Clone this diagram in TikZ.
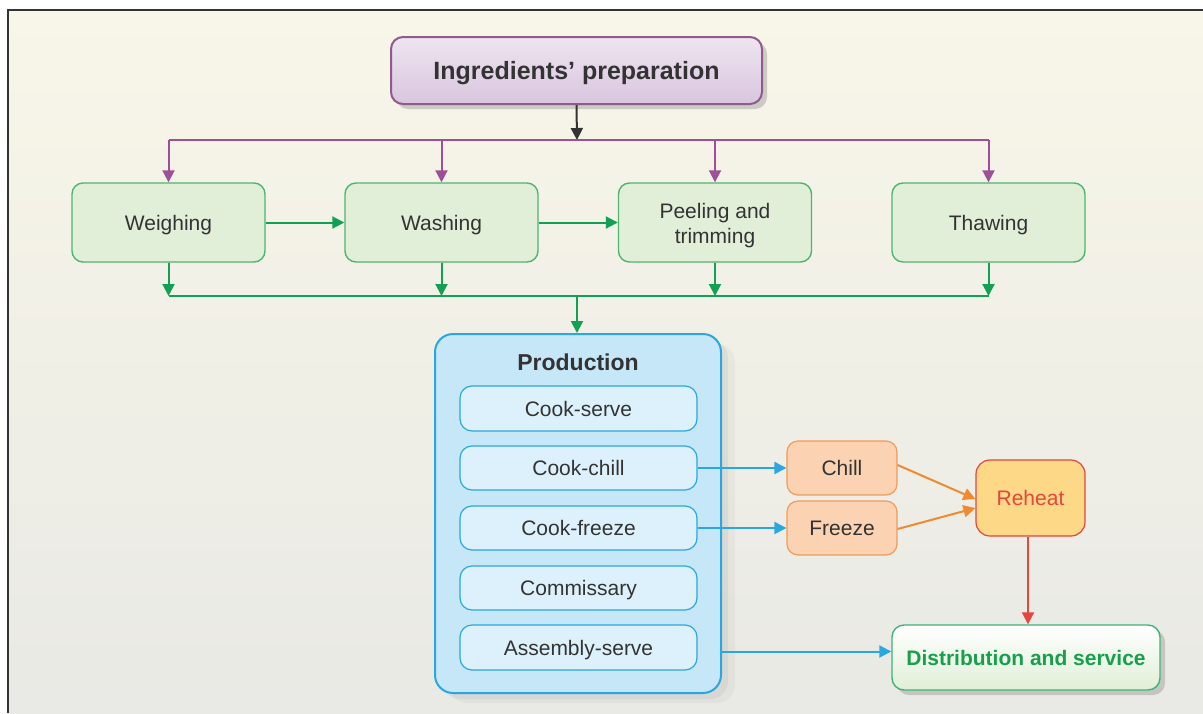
\documentclass[tikz,border=0pt]{standalone}
\usepackage{fontspec}
\setmainfont{Liberation Sans}
\usetikzlibrary{arrows.meta,shadows}

\definecolor{bgtop}{HTML}{F8F6E8}
\definecolor{bgbot}{HTML}{E9E9E5}
\definecolor{framec}{HTML}{333333}
\definecolor{txt}{HTML}{333333}
\definecolor{purln}{HTML}{9E4F96}
\definecolor{purtop}{HTML}{EEE5F0}
\definecolor{purbot}{HTML}{D9C5DF}
\definecolor{purbd}{HTML}{8F5B8F}
\definecolor{grnbd}{HTML}{4DB56E}
\definecolor{grnfill}{HTML}{E1EFD9}
\definecolor{grnln}{HTML}{12A052}
\definecolor{blubd}{HTML}{2AA7E0}
\definecolor{prodfill}{HTML}{C6E7F8}
\definecolor{subfill}{HTML}{DDF1FC}
\definecolor{orfill}{HTML}{FBD3B2}
\definecolor{orbd}{HTML}{EF9B5A}
\definecolor{orln}{HTML}{F08A30}
\definecolor{rhfill}{HTML}{FDD886}
\definecolor{redc}{HTML}{E5463E}
\definecolor{distbot}{HTML}{E0EFD6}
\definecolor{disttxt}{HTML}{17A04C}

\tikzset{
  tip/.style={-{Triangle[length=12pt,width=12pt]}},
  base/.style={font=\fontsize{21}{25}\selectfont, text=txt, align=center, inner sep=0pt,
    text height=15pt, text depth=0pt},
  prepbox/.style={base, draw=purbd, line width=2pt, rounded corners=12pt,
    top color=purtop, bottom color=purbot, font=\fontsize{25}{30}\selectfont\bfseries,
    text height=18pt, minimum width=371pt, minimum height=67pt,
    drop shadow={shadow xshift=5pt, shadow yshift=-5pt, opacity=.35}},
  stepbox/.style={base, draw=grnbd, line width=1.4pt, fill=grnfill, rounded corners=11pt,
    minimum width=193pt, minimum height=79pt},
  prodbox/.style={draw=blubd, line width=2pt, fill=prodfill, rounded corners=18pt,
    minimum width=286pt, minimum height=359pt, inner sep=0pt,
    drop shadow={shadow xshift=14pt, shadow yshift=-10pt, opacity=.07},
    drop shadow={shadow xshift=7pt, shadow yshift=-6pt, opacity=.10}},
  subbox/.style={base, draw=blubd, line width=1.2pt, fill=subfill, rounded corners=12pt,
    minimum width=237pt, minimum height=44pt},
  orbox/.style={base, draw=orbd, line width=1.2pt, fill=orfill, rounded corners=11pt,
    minimum width=110pt, minimum height=54pt},
  rhbox/.style={base, text=redc, draw=redc, line width=1.2pt, fill=rhfill, rounded corners=14pt,
    minimum width=109pt, minimum height=76pt},
  distbox/.style={base, text=disttxt, draw=grnln!80, line width=1.4pt, rounded corners=12pt,
    top color=white, bottom color=distbot, font=\fontsize{21}{25}\selectfont\bfseries,
    minimum width=268pt, minimum height=65pt,
    drop shadow={shadow xshift=5pt, shadow yshift=-5pt, opacity=.35}},
  purarrow/.style={tip, draw=purln, fill=purln, line width=2pt},
  grnarrow/.style={tip, draw=grnln, fill=grnln, line width=2pt},
  bluarrow/.style={tip, draw=blubd, fill=blubd, line width=2pt},
  orarrow/.style={tip, draw=orln, fill=orln, line width=2pt},
  redarrow/.style={tip, draw=redc, fill=redc, line width=2pt},
  blkarrow/.style={tip, draw=txt, fill=txt, line width=2pt},
}

\begin{document}
\begin{tikzpicture}[x=1pt,y=-1pt]
\useasboundingbox (0,0) rectangle (1203,713);
\fill[white] (0,0) rectangle (1203,713);
% panel background and frame
\shade[top color=bgtop, bottom color=bgbot] (8,10) rectangle (1203,713);
\draw[framec, line width=2.5pt] (8,713) -- (8,10) -- (1203,10);

% top box
\node[prepbox] (ing) at (576.5,70.5) {Ingredients’ preparation};

% preparation steps
\node[stepbox] (wei) at (168.5,222.5) {Weighing};
\node[stepbox] (was) at (441.5,222.5) {Washing};
\node[stepbox, text height=41pt, text depth=0pt] (pee) at (715,222.5) {Peeling and\\trimming};
\node[stepbox] (tha) at (988.5,222.5) {Thawing};

% split from the top box
\coordinate (pj) at (577,140);
\draw[blkarrow] (ing.south) -- (pj);
\draw[purln, line width=2.2pt] (wei.north |- pj) -- (tha.north |- pj);
\foreach \n in {wei,was,pee,tha}
  \draw[purarrow] (\n.north |- pj) -- (\n.north);

% links between steps
\draw[grnarrow] (wei.east) -- (was.west);
\draw[grnarrow] (was.east) -- (pee.west);

% production
\node[prodbox] (prod) at (578,513.5) {};
\node[base, font=\fontsize{23}{27}\selectfont\bfseries, text height=17pt] (ptitle) at (578,362) {Production};
\node[subbox, minimum height=45pt] (cs) at (578.5,408.5) {Cook-serve};
\node[subbox] (cc) at (578.5,468) {Cook-chill};
\node[subbox] (cf) at (578.5,528) {Cook-freeze};
\node[subbox] (co) at (578.5,588) {Commissary};
\node[subbox, minimum height=45pt] (as) at (578.5,647.5) {Assembly-serve};

% merge into production
\coordinate (gj) at (577,296);
\draw[grnln, line width=2.2pt] (wei.south |- gj) -- (tha.south |- gj);
\foreach \n in {wei,was,pee,tha}
  \draw[grnarrow] (\n.south) -- (\n.south |- gj);
\draw[grnarrow] (gj) -- (gj |- prod.north);

% chill / freeze / reheat
\node[orbox] (chill) at (842,468) {Chill};
\node[orbox] (frz) at (842,528) {Freeze};
\node[rhbox] (reh) at (1030.5,498) {Reheat};
\draw[bluarrow] (cc.east) -- (chill.west);
\draw[bluarrow] (cf.east) -- (frz.west);
\draw[orarrow] ([yshift=3pt]chill.east) -- ([yshift=-1pt]reh.west);
\draw[orarrow] ([yshift=-1pt]frz.east) -- ([yshift=-10pt]reh.west);

% distribution
\node[distbox] (dist) at (1026,657.5) {Distribution and service};
\draw[redarrow] (reh.south -| dist.north) ++(2,0) coordinate (rs) -- (rs |- dist.north);
\coordinate (dx) at ([yshift=6pt]dist.west);
\draw[bluarrow] (prod.east |- dx) -- (dx);
\end{tikzpicture}
\end{document}
